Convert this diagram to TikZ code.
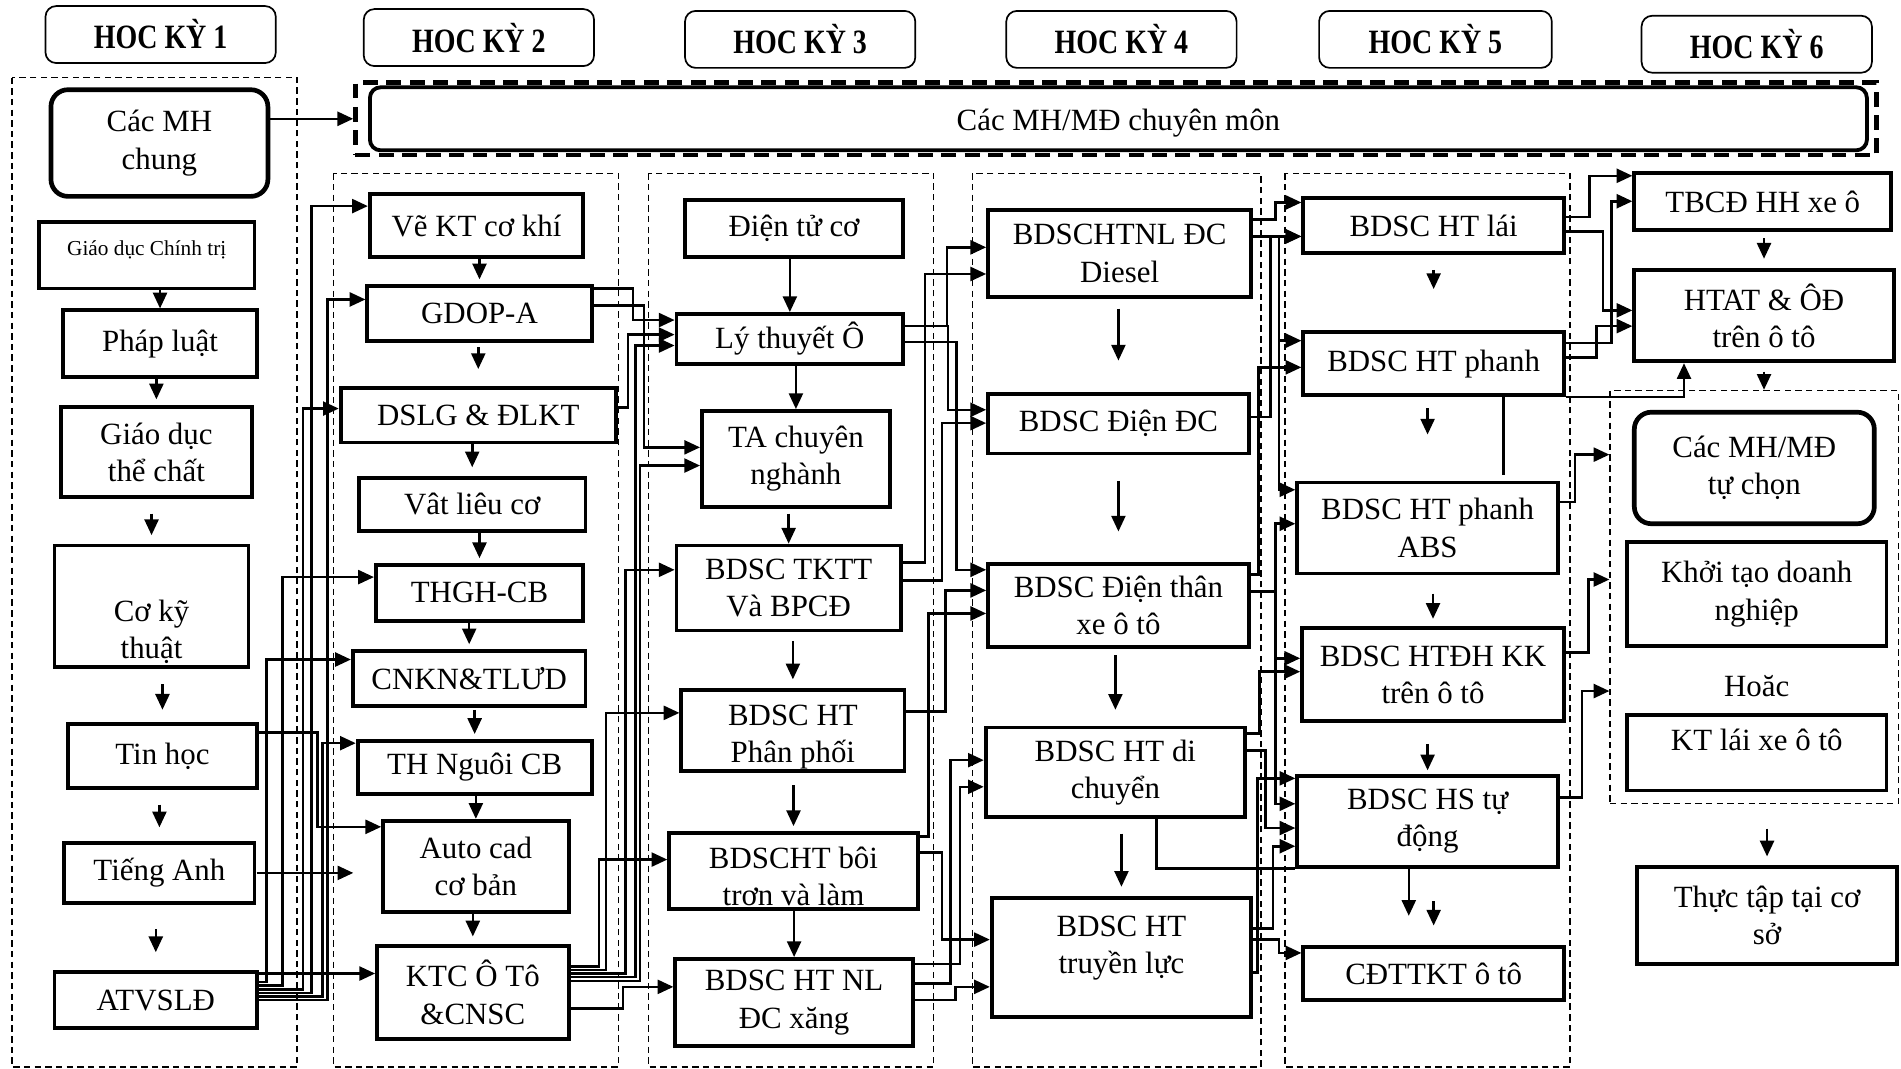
\documentclass[tikz,border=0pt]{standalone}
\usepackage{fontspec}
\setmainfont{Liberation Serif}
\newfontfamily\hkfont{Liberation Serif}[FakeStretch=0.82]
\usetikzlibrary{arrows.meta}

\begin{document}
\begin{tikzpicture}[x=0.02cm, y=-0.02cm,
    box/.style={draw, line width=1.8pt, align=center, inner sep=1pt, font=\fontsize{14.5}{17.5}\selectfont},
    rbox/.style={box, rounded corners=8pt},
    hk/.style={draw, line width=0.8pt, rounded corners=5pt, minimum width=3.8cm, minimum height=0.94cm, font=\hkfont\bfseries\fontsize{16}{18}\selectfont},
    grp/.style={draw, line width=0.6pt, dash pattern=on 3pt off 2pt},
    arr/.style={-{Triangle[length=0.26cm,width=0.23cm]}, line width=1.2pt},
    ln/.style={line width=1.2pt}
]
\fill[white] (0,0) rectangle (1568,881);

% hoc ky
\node[hk] (hk1) at (132.5,28.5) {HOC KỲ 1};
\node[hk] (hk2) at (395,31) {HOC KỲ 2};
\node[hk] (hk3) at (660,32.5) {HOC KỲ 3};
\node[hk] (hk4) at (925,32.5) {HOC KỲ 4};
\node[hk, minimum width=3.84cm] (hk5) at (1184,32.5) {HOC KỲ 5};
\node[hk] (hk6) at (1449,36.5) {HOC KỲ 6};

% khung cac hoc ky
\draw[grp] (10,64) rectangle (245,880);
\draw[grp] (275,143) rectangle (510,880);
\draw[grp] (535,143) rectangle (770,880);
\draw[grp] (802,143) rectangle (1040,880);
\draw[grp] (1060,143) rectangle (1295,880);
\node[grp, minimum width=4.76cm, minimum height=6.82cm] (tuchon) at (1447,492.5) {};

% mon chung / chuyen mon
\node[rbox, line width=2.2pt, minimum width=3.58cm, minimum height=1.76cm] (chung) at (131.5,118) {Các MH\\chung};
\node[draw, line width=2pt, dash pattern=on 7pt off 4pt, minimum width=25.1cm, minimum height=1.2cm] (mongrp) at (920.5,98) {};
\node[rbox, rounded corners=5pt, minimum width=24.7cm, minimum height=1.04cm] (mon) at (922.5,98) {\rule{0pt}{0.5cm}Các MH/MĐ chuyên môn};
\draw[arr] (chung.east |- 0,98) -- (mongrp.west |- 0,98);

% hoc ky 1
\node[box, font=\fontsize{10}{12}\selectfont, minimum width=3.56cm, minimum height=1.1cm] (ct) at (121,210.5) {Giáo dục Chính trị\rule[-0.25cm]{0pt}{0.25cm}};
\node[box, minimum width=3.2cm, minimum height=1.1cm] (pl) at (132,283.5) {Pháp luật};
\node[box, minimum width=3.16cm, minimum height=1.48cm] (tc) at (129,373) {Giáo dục\\thể chất};
\node[box, minimum width=3.2cm, minimum height=2cm] (ck) at (125,500) {\rule{0pt}{1.2cm}Cơ kỹ\\thuật};
\node[box, minimum width=3.12cm, minimum height=1.06cm] (th) at (134,623.5) {Tin học};
\node[box, minimum width=3.14cm, minimum height=1cm] (ta) at (131.5,720) {Tiếng Anh};
\node[box, minimum width=3.34cm, minimum height=0.92cm] (atld) at (128.5,825) {ATVSLĐ};

\draw[arr] (pl.north |- ct.south) -- (pl.north);
\draw[arr, shorten >=0.1cm] (tc.north |- pl.south) -- (tc.north);
\draw[arr, shorten <=0.24cm, shorten >=0.14cm] (ck.north |- tc.south) -- (ck.north);
\draw[arr, shorten <=0.26cm, shorten >=0.2cm] (th.north |- ck.south) -- (th.north);
\draw[arr, shorten <=0.24cm, shorten >=0.22cm] (ta.north |- th.south) -- (ta.north);
\draw[arr, shorten <=0.4cm, shorten >=0.3cm] (atld.north |- ta.south) -- (atld.north);

% hoc ky 2
\node[box, minimum width=3.52cm, minimum height=1.04cm] (ve) at (393,186) {Vẽ KT cơ khí};
\node[box, minimum width=3.7cm, minimum height=0.9cm] (gd) at (395.5,258.5) {GDOP-A};
\node[box, minimum width=4.54cm, minimum height=0.9cm] (ds) at (394.5,342.5) {DSLG \& ĐLKT};
\node[box, minimum width=3.74cm, minimum height=0.88cm] (vl) at (389.5,416) {Vât liêu cơ};
\node[box, minimum width=3.42cm, minimum height=0.92cm] (thgh) at (395.5,489) {THGH-CB};
\node[box, minimum width=3.84cm, minimum height=0.9cm] (cn) at (387,559.5) {CNKN\&TLƯD};
\node[box, minimum width=3.86cm, minimum height=0.88cm] (ng) at (391.5,633) {TH Nguôi CB};
\node[box, minimum width=3.06cm, minimum height=1.5cm] (ac) at (392.5,714.5) {Auto cad\\cơ bản};
\node[box, minimum width=3.16cm, minimum height=1.54cm] (ktc) at (390,818.5) {KTC Ô Tô\\\&CNSC};

\draw[arr, shorten >=0.08cm] (gd.north |- ve.south) -- (gd.north);
\draw[arr, shorten <=0.08cm, shorten >=0.28cm] (ds.north |- gd.south) -- (ds.north);
\draw[arr, shorten >=0.14cm] (vl.north |- ds.south) -- (vl.north);
\draw[arr, shorten >=0.08cm] (thgh.north |- vl.south) -- (thgh.north);
\draw[arr, shorten >=0.08cm] (cn.north |- thgh.south) -- (cn.north);
\draw[arr, shorten <=0.04cm, shorten >=0.08cm] (ng.north |- cn.south) -- (ng.north);
\draw[arr] (ac.north |- ng.south) -- (ac.north);
\draw[arr, shorten >=0.12cm] (ktc.north |- ac.south) -- (ktc.north);

% hoc ky 1 -> hoc ky 2
\draw[arr] (atld.east |- 0,810) -| (220,544) -- (cn.west |- 0,544);
\draw[arr] (atld.east |- 0,813) -| (233,476) -- (thgh.west |- 0,476);
\draw[arr] (atld.east |- 0,816) -| (250,337) -- (ds.west |- 0,337);
\draw[arr] (atld.east |- 0,819) -| (257,170) -- (ve.west |- 0,170);
\draw[arr] (atld.east |- 0,822) -| (266,613) -- (ng.west |- 0,613);
\draw[arr] (atld.east |- 0,825) -| (270,247) -- (gd.west |- 0,247);
\draw[arr] (atld.east |- 0,803) -- (ktc.west |- 0,803);
\draw[arr] (th.east |- 0,604) -| (262,682) -- (ac.west |- 0,682);
\draw[arr, shorten >=0.46cm] (ta.east) -- (ta.east -| ac.west);

% hoc ky 3
\node[box, minimum width=3.6cm, minimum height=0.94cm] (dt) at (655,188.5) {Điện tử cơ};
\node[box, minimum width=3.74cm, minimum height=0.82cm] (lt) at (651.5,279.5) {Lý thuyết Ô};
\node[box, minimum width=3.1cm, minimum height=1.58cm] (tacn) at (656.5,378.5) {TA chuyên\\nghành};
\node[box, minimum width=3.7cm, minimum height=1.4cm] (tktt) at (650.5,485) {BDSC TKTT\\Và BPCĐ};
\node[box, minimum width=3.68cm, minimum height=1.34cm] (pp) at (654,602.5) {\rule{0pt}{0.55cm}BDSC HT\\Phân phối};
\node[box, minimum width=4.1cm, minimum height=1.26cm] (bt) at (654.5,718.5) {\rule{0pt}{0.52cm}BDSCHT bôi\\trơn và làm};
\node[box, minimum width=3.92cm, minimum height=1.44cm] (nlx) at (655,827) {BDSC HT NL\\ĐC xăng};

\draw[arr] (lt.north |- dt.south) -- (lt.north);
\draw[arr] (tacn.north |- lt.south) -- (tacn.north);
\draw[arr, shorten <=0.08cm] (tktt.north |- tacn.south) -- (tktt.north);
\draw[arr, shorten <=0.14cm, shorten >=0.14cm] (pp.north |- tktt.south) -- (pp.north);
\draw[arr, shorten <=0.2cm, shorten >=0.08cm] (bt.north |- pp.south) -- (bt.north);
\draw[arr] (nlx.north |- bt.south) -- (nlx.north);

% hoc ky 2 -> hoc ky 3
\draw[arr] (gd.east |- 0,238) -| (522,264) -- (lt.west |- 0,264);
\draw[arr] (gd.east |- 0,252) -| (531,369) -- (tacn.west |- 0,369);
\draw[arr] (ds.east |- 0,336) -| (518,276) -- (lt.west |- 0,276);
\draw[arr] (ktc.east |- 0,797) -| (494,709) -- (bt.west |- 0,709);
\draw[arr] (ktc.east |- 0,800) -| (500,588) -- (pp.west |- 0,588);
\draw[arr] (ktc.east |- 0,803) -| (516,470) -- (tktt.west |- 0,470);
\draw[arr] (ktc.east |- 0,806) -| (524,285) -- (lt.west |- 0,285);
\draw[arr] (ktc.east |- 0,809) -| (528,384) -- (tacn.west |- 0,384);
\draw[arr] (ktc.east |- 0,832) -| (514,814) -- (nlx.west |- 0,814);

% hoc ky 4
\node[box, minimum width=4.34cm, minimum height=1.44cm] (ds4) at (923.5,209) {BDSCHTNL ĐC\\Diesel};
\node[box, minimum width=4.3cm, minimum height=0.98cm] (ddc) at (922.5,349.5) {BDSC Điện ĐC};
\node[box, minimum width=4.3cm, minimum height=1.38cm] (dtx) at (922.5,499.5) {BDSC Điện thân\\xe ô tô};
\node[box, minimum width=4.28cm, minimum height=1.48cm] (dc) at (920,637) {BDSC HT di\\chuyển};
\node[box, minimum width=4.28cm, minimum height=1.96cm] (tl) at (925,790) {BDSC HT\\truyền lực\rule[-0.42cm]{0pt}{0.42cm}};

\draw[arr, shorten <=0.16cm, shorten >=0.52cm] (ddc.north |- ds4.south) -- (ddc.north);
\draw[arr, shorten <=0.42cm, shorten >=0.5cm] (dtx.north |- ddc.south) -- (dtx.north);
\draw[arr, shorten <=0.1cm, shorten >=0.26cm] (dc.north |- dtx.south) -- (dc.north);
\draw[arr, shorten <=0.24cm, shorten >=0.16cm] (tl.north |- dc.south) -- (tl.north);

% hoc ky 3 -> hoc ky 4
\draw[arr] (lt.east |- 0,269) -| (781,204) -- (ds4.west |- 0,204);
\draw[arr] (lt.east |- 0,269) -| (782,338) -- (ddc.west |- 0,338);
\draw[arr] (lt.east |- 0,282) -| (789,470) -- (dtx.west |- 0,470);
\draw[arr] (tktt.east |- 0,464) -| (763,226) -- (ds4.west |- 0,226);
\draw[arr] (tktt.east |- 0,479) -| (777,349) -- (ddc.west |- 0,349);
\draw[arr] (pp.east |- 0,587) -| (780,487) -- (dtx.west |- 0,487);
\draw[arr] (bt.east |- 0,690) -| (766,506) -- (dtx.west |- 0,506);
\draw[arr] (bt.east |- 0,703) -| (777,775) -- (tl.west |- 0,775);
\draw[arr] (nlx.east |- 0,795) -| (792,649) -- (dc.west |- 0,649);
\draw[arr] (nlx.east |- 0,811) -| (784,627) -- (dc.west |- 0,627);
\draw[arr] (nlx.east |- 0,825) -| (788,814) -- (tl.west |- 0,814);

% hoc ky 5
\node[box, minimum width=4.3cm, minimum height=0.92cm] (lai) at (1182.5,186) {BDSC HT lái};
\node[box, minimum width=4.3cm, minimum height=1.04cm] (ph) at (1182.5,300) {BDSC HT phanh};
\node[box, minimum width=4.3cm, minimum height=1.5cm] (abs) at (1177.5,435.5) {BDSC HT phanh\\ABS};
\node[box, minimum width=4.32cm, minimum height=1.54cm] (dh) at (1182,556.5) {BDSC HTĐH KK\\trên ô tô};
\node[box, minimum width=4.3cm, minimum height=1.5cm] (hs) at (1177.5,677.5) {BDSC HS tự\\động};
\node[box, minimum width=4.3cm, minimum height=0.88cm] (cd) at (1182.5,803) {CĐTTKT ô tô};

\draw[arr, shorten <=0.24cm, shorten >=0.68cm] (ph.north |- lai.south) -- (ph.north);
\draw[arr, shorten <=0.18cm, shorten >=0.76cm] (abs.north |- ph.south) -- (abs.north);
\draw[arr, shorten <=0.3cm, shorten >=0.12cm] (dh.north |- abs.south) -- (dh.north);
\draw[arr, shorten <=0.34cm, shorten >=0.06cm] (hs.north |- dh.south) -- (hs.north);
\draw[arr, shorten >=0.48cm] (hs.south -| 1162,0) -- (cd.north -| 1162,0);
\draw[arr, shorten <=0.54cm, shorten >=0.32cm] (cd.north |- hs.south) -- (cd.north);
\draw[ln, shorten >=0.1cm] (ph.south -| 1240,0) -- (abs.north -| 1240,0);

% hoc ky 4 -> hoc ky 5
\draw[arr] (ds4.east |- 0,181) -| (1052,167) -- (lai.west |- 0,167);
\draw[arr] (ds4.east |- 0,195) -- (lai.west |- 0,195);
\draw[arr] (ds4.east |- 0,195) -| (1055,281) -- (ph.west |- 0,281);
\draw[arr] (ds4.east |- 0,195) -| (1055,404) -- (abs.west |- 0,404);
\draw[arr] (ddc.east |- 0,344) -| (1048,195) -- (lai.west |- 0,195);
\draw[arr] (dtx.east |- 0,474) -| (1038,303) -- (ph.west |- 0,303);
\draw[arr] (dtx.east |- 0,488) -| (1052,432) -- (abs.west |- 0,432);
\draw[arr] (dtx.east |- 0,488) -| (1052,543) -- (dh.west |- 0,543);
\draw[arr] (dtx.east |- 0,488) -| (1052,663) -- (hs.west |- 0,663);
\draw[arr] (dc.east |- 0,605) -| (1039,554) -- (dh.west |- 0,554);
\draw[arr] (dc.east |- 0,619) -| (1044,683) -- (hs.west |- 0,683);
\draw[ln] (dc.south -| 954,0) |- (hs.south west);
\draw[arr] (tl.east |- 0,802) -| (1037,642) -- (hs.west |- 0,642);
\draw[arr] (tl.east |- 0,766) -| (1050,698) -- (hs.west |- 0,698);
\draw[arr] (tl.east |- 0,775) -| (1055,786) -- (cd.west |- 0,786);

% hoc ky 6
\node[box, minimum width=4.24cm, minimum height=0.94cm] (tb) at (1454,166.5) {TBCĐ HH xe ô};
\node[box, minimum width=4.28cm, minimum height=1.5cm] (htat) at (1455,260.5) {HTAT \& ÔĐ\\trên ô tô};
\node[rbox, line width=2.2pt, minimum width=3.96cm, minimum height=1.84cm] (mhtc) at (1447,386) {Các MH/MĐ\\tự chọn};
\node[box, minimum width=4.28cm, minimum height=1.72cm] (ktdn) at (1449,490) {Khởi tạo doanh\\nghiệp};
\node[font=\fontsize{14.5}{17.5}\selectfont] (hoac) at (1449,566) {Hoăc};
\node[box, minimum width=4.28cm, minimum height=1.24cm] (klx) at (1449,621) {KT lái xe ô tô\rule[-0.42cm]{0pt}{0.42cm}};
\node[box, minimum width=4.3cm, minimum height=1.6cm] (tt) at (1457.5,755) {Thực tập tại cơ\\sở};

\draw[arr, shorten <=0.1cm, shorten >=0.16cm] (htat.north |- tb.south) -- (htat.north);
\draw[arr, shorten <=0.14cm] (htat.south) -- (tuchon.north -| htat.south);
\draw[arr, shorten <=0.4cm, shorten >=0.14cm] (tt.north |- tuchon.south) -- (tt.north);

% hoc ky 5 -> hoc ky 6
\draw[arr] (lai.east |- 0,179) -| (1311,145) -- (tb.west |- 0,145);
\draw[arr] (lai.east |- 0,191) -| (1322,256) -- (htat.west |- 0,256);
\draw[arr] (ph.east |- 0,283) -| (1329,166) -- (tb.west |- 0,166);
\draw[arr] (ph.east |- 0,295) -| (1317,269) -- (htat.west |- 0,269);
\draw[arr] (ph.south east) -| (htat.south -| 1389,0);
\draw[arr] (abs.east |- 0,414) -| (1299,375) -- (tuchon.west |- 0,375);
\draw[arr] (dh.east |- 0,538) -| (1310,478) -- (tuchon.west |- 0,478);
\draw[arr] (hs.east |- 0,658) -| (1305,570) -- (tuchon.west |- 0,570);
\end{tikzpicture}
\end{document}
